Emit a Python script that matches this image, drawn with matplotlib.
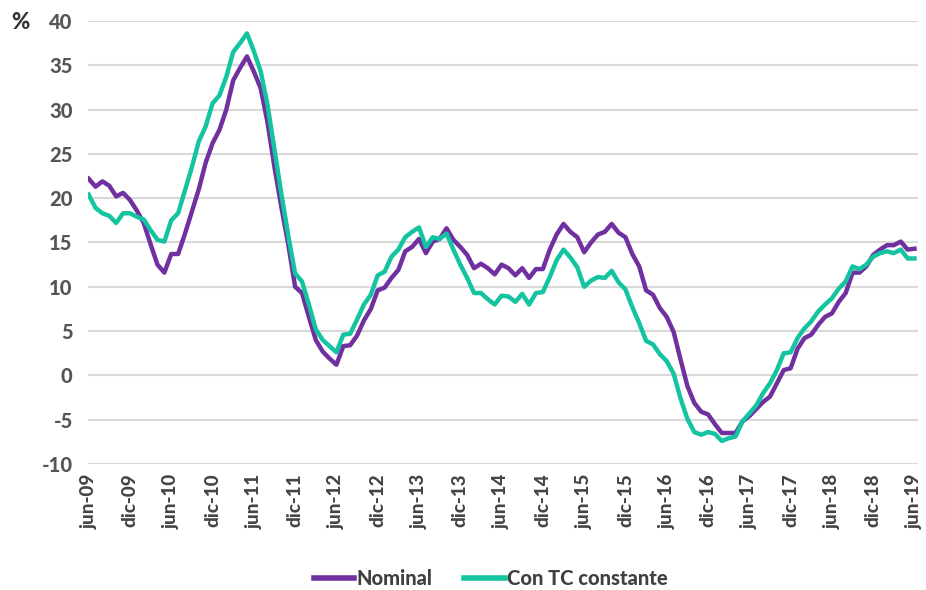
import numpy as np
import matplotlib
matplotlib.use("Agg")
import matplotlib.pyplot as plt

# monthly series, jun-09 .. jun-19
nominal = [
    22.2, 21.3, 21.9, 21.4, 20.2, 20.6, 19.8, 18.6, 17.2, 14.8, 12.5, 11.6,
    13.7, 13.7, 16.0, 18.5, 21.0, 24.0, 26.2, 27.7, 30.0, 33.3, 34.7, 36.0,
    34.3, 32.4, 28.5, 23.5, 19.0, 14.8, 10.0, 9.3, 6.6, 4.0, 2.7, 1.9,
    1.2, 3.3, 3.4, 4.5, 6.2, 7.5, 9.6, 9.9, 11.0, 11.9, 14.0, 14.5,
    15.4, 13.8, 15.1, 15.4, 16.6, 15.3, 14.5, 13.6, 12.1, 12.6, 12.1, 11.4,
    12.5, 12.1, 11.3, 12.1, 11.0, 12.0, 12.0, 14.2, 15.9, 17.1, 16.2, 15.6,
    13.9, 15.0, 15.9, 16.2, 17.1, 16.1, 15.6, 13.7, 12.3, 9.6, 9.1, 7.6,
    6.6, 4.9, 1.8, -1.2, -3.1, -4.1, -4.4, -5.5, -6.5, -6.5, -6.5, -5.2,
    -4.6, -3.8, -3.0, -2.4, -0.9, 0.6, 0.8, 3.0, 4.2, 4.6, 5.7, 6.6,
    7.0, 8.3, 9.3, 11.6, 11.6, 12.3, 13.6, 14.2, 14.7, 14.7, 15.1, 14.2,
    14.3,
]
tc_constante = [
    20.4, 18.9, 18.3, 18.0, 17.2, 18.3, 18.3, 17.9, 17.6, 16.4, 15.3, 15.1,
    17.5, 18.3, 20.9, 23.5, 26.4, 28.1, 30.7, 31.6, 33.7, 36.5, 37.5, 38.6,
    36.6, 34.3, 30.5, 25.5, 20.5, 15.8, 11.5, 10.6, 8.0, 5.2, 4.0, 3.3,
    2.6, 4.6, 4.7, 6.3, 8.0, 9.1, 11.3, 11.7, 13.4, 14.2, 15.6, 16.2,
    16.7, 14.5, 15.6, 15.4, 16.0, 14.2, 12.5, 11.0, 9.3, 9.3, 8.6, 8.0,
    9.0, 8.9, 8.3, 9.2, 8.0, 9.3, 9.4, 11.1, 13.0, 14.2, 13.3, 12.2,
    10.0, 10.7, 11.1, 11.0, 11.8, 10.5, 9.7, 7.7, 5.9, 3.9, 3.5, 2.4,
    1.6, 0.2, -2.6, -4.9, -6.4, -6.7, -6.4, -6.6, -7.4, -7.1, -6.9, -5.2,
    -4.3, -3.4, -2.0, -0.9, 0.6, 2.5, 2.6, 4.2, 5.3, 6.1, 7.2, 8.0,
    8.7, 9.8, 10.6, 12.3, 12.0, 12.5, 13.4, 13.8, 14.0, 13.8, 14.2, 13.2,
    13.2,
]
tick_labels = ["jun-09", "dic-09", "jun-10", "dic-10", "jun-11", "dic-11",
               "jun-12", "dic-12", "jun-13", "dic-13", "jun-14", "dic-14",
               "jun-15", "dic-15", "jun-16", "dic-16", "jun-17", "dic-17",
               "jun-18", "dic-18", "jun-19"]
y_ticks = [-10, -5, 0, 5, 10, 15, 20, 25, 30, 35, 40]

plt.rcParams['font.family'] = ['Lato', 'DejaVu Sans']

PURPLE = "#7030a0"
TEAL = "#14c4a0"
GRAY = "#555555"

fig = plt.figure(figsize=(9.26, 5.9), dpi=100)
ax = fig.add_axes([0.095, 0.2136, 0.8963, 0.7508])

months = np.arange(len(nominal))
ax.plot(months, nominal, color=PURPLE, lw=3.2, label="Nominal", zorder=3)
ax.plot(months, tc_constante, color=TEAL, lw=3.2, label="Con TC constante", zorder=3)

ax.set_ylim(-10, 40)
ax.set_xlim(-0.1, 120.5)
ax.set_yticks(y_ticks)
ax.set_yticklabels([str(v) for v in y_ticks])
ax.set_xticks(np.arange(0, 121, 6))
ax.set_xticklabels(tick_labels, rotation=90)
ax.grid(axis='y', color="#d9d9d9", lw=1.5, zorder=0)
ax.tick_params(length=0)
ax.tick_params(axis='y', pad=11, labelsize=14.5, labelcolor=GRAY)
ax.tick_params(axis='x', pad=7, labelsize=13.5, labelcolor="#444444")
for lab in ax.get_xticklabels() + ax.get_yticklabels():
    lab.set_fontweight('black')
for s in ax.spines.values():
    s.set_visible(False)

fig.text(0.012, 0.962, "%", fontsize=16, fontweight='black', color="#333333", va='center')

leg = fig.legend(loc='lower center', bbox_to_anchor=(0.53, -0.027), ncol=2,
                 frameon=False, handlelength=2.0, handletextpad=0.1,
                 columnspacing=1.6, prop={'weight': 'black', 'size': 14.5})
for t in leg.get_texts():
    t.set_color("#404040")
for h in leg.get_lines():
    h.set_linewidth(4)

fig.savefig("out.png", dpi=100)
